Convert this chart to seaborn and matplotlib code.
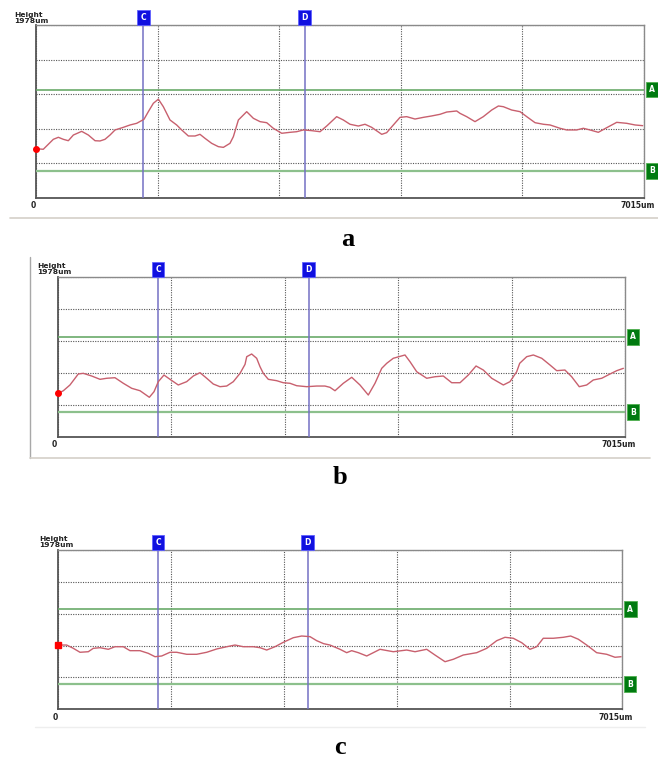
import matplotlib
matplotlib.use("Agg")
import matplotlib.pyplot as plt
import matplotlib.transforms as mtrans
from matplotlib.lines import Line2D
import numpy as np
import pandas as pd
import seaborn as sns

# ---------------- data (um) ----------------
x_max = 7015
y_max = 1978
cursor_C = 1240
cursor_D = 3100
level_A = 1240
level_B = 309

a_x = [0, 84, 200, 258, 315, 373, 431, 527, 604, 681, 738, 796, 854, 912, 1008, 1085, 1162, 1246,
       1296, 1354, 1412, 1469, 1546, 1623, 1681, 1758, 1835, 1892, 1950, 2027, 2104, 2162, 2238,
       2277, 2335, 2431, 2508, 2585, 2662, 2738, 2835, 2931, 3008, 3085, 3181, 3277, 3354, 3469,
       3546, 3623, 3719, 3796, 3873, 3989, 4046, 4123, 4200, 4277, 4373, 4469, 4565, 4662, 4739,
       4854, 4892, 4969, 5065, 5161, 5258, 5335, 5392, 5488, 5585, 5662, 5758, 5854, 5931, 6046,
       6123, 6238, 6315, 6392, 6488, 6585, 6700, 6815, 6912, 7000]
a_y = [564, 557, 671, 694, 671, 655, 720, 762, 720, 655, 652, 671, 720, 778, 808, 835, 854, 900,
       987, 1083, 1130, 1044, 892, 835, 778, 709, 709, 728, 682, 625, 587, 579, 625,
       701, 892, 987, 911, 873, 861, 797, 740, 751, 758, 778, 770, 758, 823, 930,
       892, 843, 823, 843, 808, 728, 747, 835, 922, 930, 903, 922, 938, 957, 983,
       995, 968, 930, 873, 930, 1006, 1052, 1044, 1006, 987, 930, 861, 843, 835, 797,
       778, 778, 797, 778, 751, 804, 865, 854, 835, 827]

b_x = [0, 66, 148, 251, 313, 417, 520, 603, 705, 808, 912, 1015, 1130, 1188, 1241, 1311, 1386,
       1488, 1592, 1674, 1757, 1840, 1921, 2004, 2087, 2169, 2252, 2314, 2335, 2396, 2458, 2499,
       2540, 2602, 2706, 2787, 2870, 2953, 3077, 3201, 3303, 3365, 3427, 3530, 3634, 3736, 3839,
       3922, 4005, 4067, 4148, 4293, 4355, 4438, 4562, 4664, 4767, 4871, 4974, 5076, 5172, 5262,
       5366, 5510, 5592, 5675, 5712, 5799, 5881, 5985, 6087, 6170, 6272, 6355, 6449, 6541, 6623,
       6727, 6830, 6913, 6995]
b_y = [540, 572, 643, 779, 787, 754, 713, 726, 733, 664, 602, 572, 491, 560, 684, 766, 713,
       643, 684, 754, 795, 726, 655, 622, 630, 684, 787, 898, 993, 1026, 973, 870,
       787, 713, 696, 671, 664, 634, 622, 630, 630, 614, 572, 664, 738, 643, 519,
       664, 849, 911, 973, 1014, 931, 807, 726, 745, 754, 671, 671, 766, 878, 828,
       726, 643, 684, 807, 911, 993, 1014, 973, 890, 820, 828, 745, 622, 643, 705,
       726, 779, 820, 849]

c_x = [0, 104, 187, 270, 373, 435, 519, 622, 705, 809, 892, 1016, 1119, 1203, 1286, 1389, 1473,
       1597, 1721, 1846, 1970, 2095, 2198, 2301, 2425, 2509, 2592, 2695, 2799, 2923, 3027, 3131,
       3214, 3300, 3379, 3504, 3587, 3649, 3732, 3836, 3918, 4001, 4167, 4333, 4437, 4582, 4685,
       4810, 4913, 5037, 5204, 5328, 5453, 5556, 5659, 5764, 5867, 5950, 6032, 6157, 6281, 6373,
       6468, 6572, 6696, 6821, 6924, 7000]
c_y = [798, 798, 757, 708, 715, 757, 765, 745, 777, 777, 728, 728, 695, 653, 662, 708, 708,
       683, 683, 708, 749, 777, 798, 777, 777, 765, 736, 777, 832, 889, 910, 902,
       852, 815, 798, 745, 703, 728, 703, 662, 703, 745, 715, 736, 715, 745, 674,
       591, 621, 674, 703, 757, 852, 894, 882, 827, 745, 777, 882, 882, 894, 910,
       870, 798, 703, 683, 646, 653]

panels = [
    ("a", a_x, a_y),
    ("b", b_x, b_y),
    ("c", c_x, c_y),
]

# axes rectangles in pixels (left, top, right, bottom)
W, H = 658, 763
rects_px = [(36, 25, 644, 198), (58, 277, 625, 437), (58.3, 550, 622.3, 709.3)]
letter_pos = [(348, 240), (340, 478), (340, 748)]
zero_pos = [(33, 205), (54, 444), (55, 717)]
end_pos = [(655, 205), (636, 444), (633, 717)]
height_pos = [(14, 24), (37, 275), (39, 548)]
dot_markers = ["o", "o", "s"]

sns.set_theme(style="white")
plt.rcParams['font.family'] = ['DejaVu Sans']

fig = plt.figure(figsize=(W / 100, H / 100), dpi=100)
fig.patch.set_facecolor("white")

line_col = "#c8606e"
green_col = "#6aaa6a"
cursor_col = "#7470c4"
grid_col = "#555555"

for i, (name, xs, ys) in enumerate(panels):
    l, t, r, b = rects_px[i]
    ax = fig.add_axes([l / W, 1 - b / H, (r - l) / W, (b - t) / H])
    df = pd.DataFrame({"x": xs, "y": ys})
    ax.set_xlim(0, x_max)
    ax.set_ylim(0, y_max)
    ax.set_xticks(np.linspace(0, x_max, 6))
    ax.set_yticks(np.linspace(0, y_max, 6))
    ax.tick_params(left=False, bottom=False, labelleft=False, labelbottom=False)
    ax.grid(True, linestyle=(0, (1, 1.2)), color=grid_col, linewidth=0.8)
    for s in ["top", "right"]:
        ax.spines[s].set_color("#8a8a8a")
        ax.spines[s].set_linewidth(1.0)
    for s in ["left", "bottom"]:
        ax.spines[s].set_color("#555555")
        ax.spines[s].set_linewidth(1.3)

    ax.axhline(level_A, color=green_col, lw=1.2, zorder=3)
    ax.axhline(level_B, color="#8cc08c", lw=1.6, zorder=3)
    ax.axvline(cursor_C, color=cursor_col, lw=1.1, zorder=3)
    ax.axvline(cursor_D, color=cursor_col, lw=1.1, zorder=3)

    sns.lineplot(data=df, x="x", y="y", ax=ax, color=line_col, lw=1.0, zorder=4)
    ax.set_xlabel("")
    ax.set_ylabel("")
    ax.plot(xs[0], ys[0], marker=dot_markers[i], color="#ff0000", markersize=4,
            clip_on=False, zorder=6)

    # cursor labels above the axes
    tr_top = mtrans.blended_transform_factory(ax.transData, ax.transAxes)
    for lab, xv in (("C", cursor_C), ("D", cursor_D)):
        ax.text(xv, 1.0 + 3 / (b - t), lab, transform=tr_top, ha="center", va="bottom",
                color="white", fontsize=5.5, fontweight="bold",
                bbox=dict(boxstyle="square,pad=0.45", fc="#1010e0", ec="#6060ff", lw=0.6))
    tr_right = mtrans.blended_transform_factory(ax.transAxes, ax.transData)
    for lab, yv in (("A", level_A), ("B", level_B)):
        ax.text(1.0 + 5 / (r - l), yv, lab, transform=tr_right, ha="left", va="center",
                color="white", fontsize=5.5, fontweight="bold",
                bbox=dict(boxstyle="square,pad=0.45", fc="#007a10", ec="#50b050", lw=0.6))

    hx, hy = height_pos[i]
    fig.text(hx / W, 1 - hy / H, "Height\n1978um", ha="left", va="bottom",
             fontsize=5.4, fontweight="bold", color="#222222", linespacing=1.0)
    zx, zy = zero_pos[i]
    fig.text(zx / W, 1 - zy / H, "0", ha="center", va="center", fontsize=5.5,
             fontweight="bold", color="#222222")
    ex, ey = end_pos[i]
    fig.text(ex / W, 1 - ey / H, "7015um", ha="right", va="center", fontsize=5.5,
             fontweight="bold", color="#222222")
    px, py = letter_pos[i]
    fig.text(px / W, 1 - py / H, name, ha="center", va="center", fontsize=19,
             fontweight="bold", family="Liberation Serif", color="black")

# window frame decorations
def fline(x0, y0, x1, y1, col="#d4d0c8", lw=1.2):
    fig.add_artist(Line2D([x0 / W, x1 / W], [1 - y0 / H, 1 - y1 / H], color=col, lw=lw,
                          transform=fig.transFigure))

fline(10, 218, 658, 218)
fline(30, 257, 30, 458, col="#a8a8a8", lw=1.0)
fline(30, 458, 650, 458)
fline(35, 727, 645, 727, col="#eeeeee", lw=1.0)

fig.savefig("out.png", dpi=100, facecolor="white")
